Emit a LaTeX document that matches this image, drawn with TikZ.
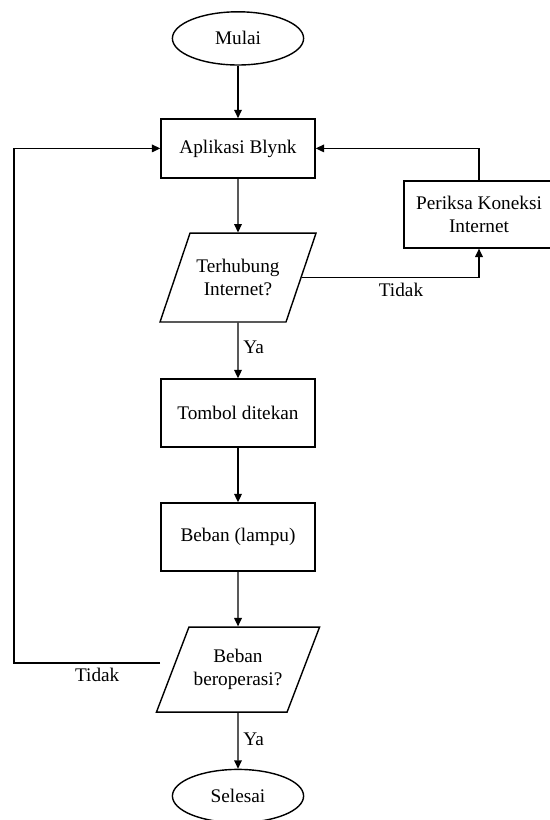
\documentclass[tikz,border=0pt]{standalone}
\usepackage{fontspec}
\setmainfont{Liberation Serif}
\usetikzlibrary{arrows.meta,shapes.geometric}

\begin{document}
\begin{tikzpicture}[
    every node/.style={font=\fontsize{13.7}{16.5}\selectfont, align=center},
    terminal/.style={ellipse, draw, line width=1pt, minimum width=3.28cm, minimum height=1.33cm},
    process/.style={rectangle, draw, line width=1pt, minimum width=3.85cm, minimum height=1.7cm},
    decision/.style={trapezium, trapezium left angle=57, trapezium right angle=123, trapezium stretches body=true, draw, line width=1pt, minimum width=3.9cm, minimum height=2.22cm},
    flow/.style={-{Triangle[length=2.1mm,width=1.9mm]}, line width=1pt}
]
\useasboundingbox (0,0) rectangle (13.75,-20.5);

% ---- MAIN COLUMN ----
\node[terminal] (mulai) at (5.95,-0.96) {Mulai};
\node[process, minimum height=1.475cm] (blynk) at (5.95,-3.71) {Aplikasi Blynk};
\node[decision] (cek) at (5.95,-6.94) {Terhubung\\ Internet?};
\node[process] (tombol) at (5.95,-10.325) {Tombol ditekan};
\node[process] (beban) at (5.95,-13.425) {Beban (lampu)};
\node[decision, minimum width=4.03cm, minimum height=2.125cm] (operasi) at (5.95,-16.74) {Beban\\ beroperasi?};
\node[terminal] (selesai) at (5.95,-19.9) {Selesai};

\draw[flow] (mulai) -- (blynk);
\draw[flow] (blynk) -- (cek);
\draw[flow] (cek) -- node[right, pos=0.44] {Ya} (tombol);
\draw[flow] (tombol) -- (beban);
\draw[flow] (beban) -- (operasi);
\draw[flow] (operasi) -- node[right, pos=0.48] {Ya} (selesai);

% ---- SIDE BRANCH (no connection) ----
\node[process, minimum width=3.75cm, minimum height=1.675cm] (periksa) at (11.975,-5.36) {Periksa Koneksi\\ Internet};
\draw[flow] (cek.east) -| node[below, pos=0.28] {Tidak} (periksa.south);
\draw[flow] (periksa.north) |- (blynk.east);

% ---- LOOP BACK ----
\coordinate (balik) at (4.0,-16.575);
\coordinate (kiri) at (0.35,-16.575);
\draw[flow] (balik) -- node[below, pos=0.43] {Tidak} (kiri) |- (blynk.west);
\end{tikzpicture}
\end{document}
